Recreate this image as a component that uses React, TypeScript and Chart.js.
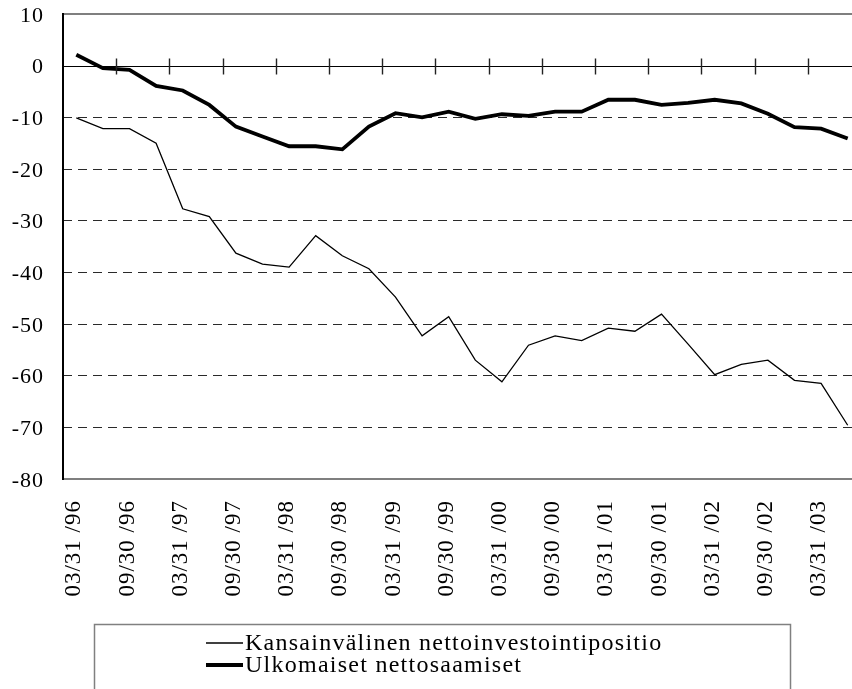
import React, { useEffect, useRef } from 'react';
import { Chart, registerables } from 'chart.js';

Chart.register(...registerables);

// Quarter-end dates, 1996Q1 .. 2003Q2
const quarterDates = [
  '03/31/96', '06/30/96', '09/30/96', '12/31/96',
  '03/31/97', '06/30/97', '09/30/97', '12/31/97',
  '03/31/98', '06/30/98', '09/30/98', '12/31/98',
  '03/31/99', '06/30/99', '09/30/99', '12/31/99',
  '03/31/00', '06/30/00', '09/30/00', '12/31/00',
  '03/31/01', '06/30/01', '09/30/01', '12/31/01',
  '03/31/02', '06/30/02', '09/30/02', '12/31/02',
  '03/31/03', '06/30/03',
];

// Kansainvälinen nettoinvestointipositio (thin line)
const netInvestmentPosition = [
  -10.1, -12.2, -12.2, -15.0, -27.7, -29.2, -36.3, -38.4,
  -39.0, -32.9, -36.8, -39.3, -44.8, -52.3, -48.6, -57.0,
  -61.2, -54.1, -52.3, -53.2, -50.8, -51.4, -48.1, -53.9,
  -59.8, -57.8, -57.0, -60.9, -61.5, -69.6,
];

// Ulkomaiset nettosaamiset (thick line)
const netForeignAssets = [
  2.1, -0.5, -0.8, -3.9, -4.8, -7.6, -11.8, -13.7,
  -15.6, -15.6, -16.2, -11.8, -9.2, -10.0, -8.9, -10.3,
  -9.4, -9.7, -8.9, -8.9, -6.6, -6.6, -7.6, -7.2,
  -6.6, -7.3, -9.3, -11.9, -12.2, -14.1,
];

const seriesLabels = ['Kansainvälinen nettoinvestointipositio', 'Ulkomaiset nettosaamiset'];

const Y_MIN = -80;
const Y_MAX = 10;
const Y_STEP = 10;

const FONT = '"Liberation Serif", "Times New Roman", serif';

const displayDate = (d: string) => d.replace(/\/(\d\d)$/, ' /$1');

const framePlugin = {
  id: 'frameAndZero',
  beforeLayout(chart: any) {
    try { chart.ctx.letterSpacing = '1px'; } catch (e) {}
  },
  beforeDraw(chart: any) {
    try { chart.ctx.letterSpacing = '1px'; } catch (e) {}
  },
  afterDraw(chart: any) {
    const { ctx, chartArea } = chart;
    const ys = chart.scales.y;
    const y0 = Math.round(ys.getPixelForValue(0)) + 0.5;
    const pts = chart.getDatasetMeta(0).data;
    ctx.save();
    ctx.setLineDash([]);
    // zero axis line
    ctx.strokeStyle = '#000';
    ctx.lineWidth = 1;
    ctx.beginPath();
    ctx.moveTo(chartArea.left, y0);
    ctx.lineTo(chartArea.right, y0);
    ctx.stroke();
    // tick marks on the zero line every two categories
    ctx.strokeStyle = '#222';
    ctx.lineWidth = 1.4;
    ctx.beginPath();
    for (let i = 2; i < pts.length; i += 2) {
      const x = Math.round((pts[i - 1].x + pts[i].x) / 2) + 0.5;
      ctx.moveTo(x, y0 - 8);
      ctx.lineTo(x, y0 + 8);
    }
    ctx.stroke();
    // frame
    ctx.strokeStyle = '#000';
    ctx.lineWidth = 1.2;
    ctx.beginPath();
    ctx.moveTo(chartArea.left, chartArea.top);
    ctx.lineTo(chartArea.right + 5, chartArea.top);
    ctx.stroke();
    ctx.beginPath();
    ctx.moveTo(chartArea.left, chartArea.bottom);
    ctx.lineTo(chartArea.right + 5, chartArea.bottom);
    ctx.stroke();
    ctx.lineWidth = 2;
    ctx.beginPath();
    ctx.moveTo(chartArea.left, chartArea.top - 1);
    ctx.lineTo(chartArea.left, chartArea.bottom + 1);
    ctx.stroke();

    // legend box
    ctx.strokeStyle = '#808080';
    ctx.lineWidth = 1.5;
    ctx.strokeRect(94.5, 624.5, 696, 120);
    try { ctx.letterSpacing = '1.25px'; } catch (e) {}
    chart.data.datasets.forEach((ds: any, i: number) => {
      const y = 643 + i * 22;
      ctx.beginPath();
      ctx.strokeStyle = '#000';
      ctx.lineWidth = ds.borderWidth;
      ctx.moveTo(206, y);
      ctx.lineTo(243, y);
      ctx.stroke();
      ctx.fillStyle = '#000';
      ctx.font = `24px ${FONT}`;
      ctx.textBaseline = 'middle';
      ctx.textAlign = 'left';
      ctx.fillText(ds.label, 245, y + 1);
    });
    ctx.restore();
  },
};

export default function App() {
  const canvasRef = useRef<HTMLCanvasElement | null>(null);

  useEffect(() => {
    const canvas = canvasRef.current;
    if (!canvas) return;
    const chart = new Chart(canvas, {
      type: 'line',
      data: {
        labels: quarterDates,
        datasets: [
          {
            label: seriesLabels[0],
            data: netInvestmentPosition,
            borderColor: '#000',
            backgroundColor: '#000',
            borderWidth: 1.3,
            pointRadius: 0,
            tension: 0,
          },
          {
            label: seriesLabels[1],
            data: netForeignAssets,
            borderColor: '#000',
            backgroundColor: '#000',
            borderWidth: 3.8,
            pointRadius: 0,
            tension: 0,
          },
        ],
      },
      options: {
        animation: false,
        responsive: false,
        devicePixelRatio: 1,
        layout: { padding: { left: 0, top: 14, right: 9, bottom: 0 } },
        plugins: {
          legend: { display: false },
          tooltip: { enabled: false },
        },
        scales: {
          x: {
            type: 'category',
            offset: true,
            grid: { display: false, drawTicks: false },
            border: { display: false },
            afterFit: (scale: any) => {
              scale.height = 210;
              scale.paddingLeft = 0;
              scale.paddingRight = 0;
            },
            ticks: {
              autoSkip: false,
              maxRotation: 90,
              minRotation: 90,
              padding: 21,
              labelOffset: -2,
              color: '#000',
              font: { family: FONT, size: 23 },
              callback: (_v: any, i: number) => (i % 2 === 0 ? displayDate(quarterDates[i]) : ''),
            },
          },
          y: {
            min: Y_MIN,
            max: Y_MAX,
            afterFit: (scale: any) => {
              scale.width = 63;
              scale.paddingTop = 0;
              scale.paddingBottom = 0;
            },
            grid: {
              drawTicks: false,
              lineWidth: 1,
              color: (c: any) => {
                const v = c.tick ? c.tick.value : 0;
                return v === 0 || v === Y_MIN || v === Y_MAX ? 'rgba(0,0,0,0)' : '#2a2a2a';
              },
            },
            border: { display: false, dash: [9, 6] },
            ticks: {
              stepSize: Y_STEP,
              padding: 19,
              labelOffset: 2,
              color: '#000',
              font: { family: FONT, size: 22 },
            },
          },
        },
      },
      plugins: [framePlugin],
    });
    return () => chart.destroy();
  }, []);

  return (
    <div style={{ position: 'fixed', left: 0, top: 0, width: 852, height: 689, overflow: 'hidden', background: '#fff' }}>
      <canvas ref={canvasRef} width={870} height={689} style={{ display: 'block', width: 870, height: 689 }} />
    </div>
  );
}
